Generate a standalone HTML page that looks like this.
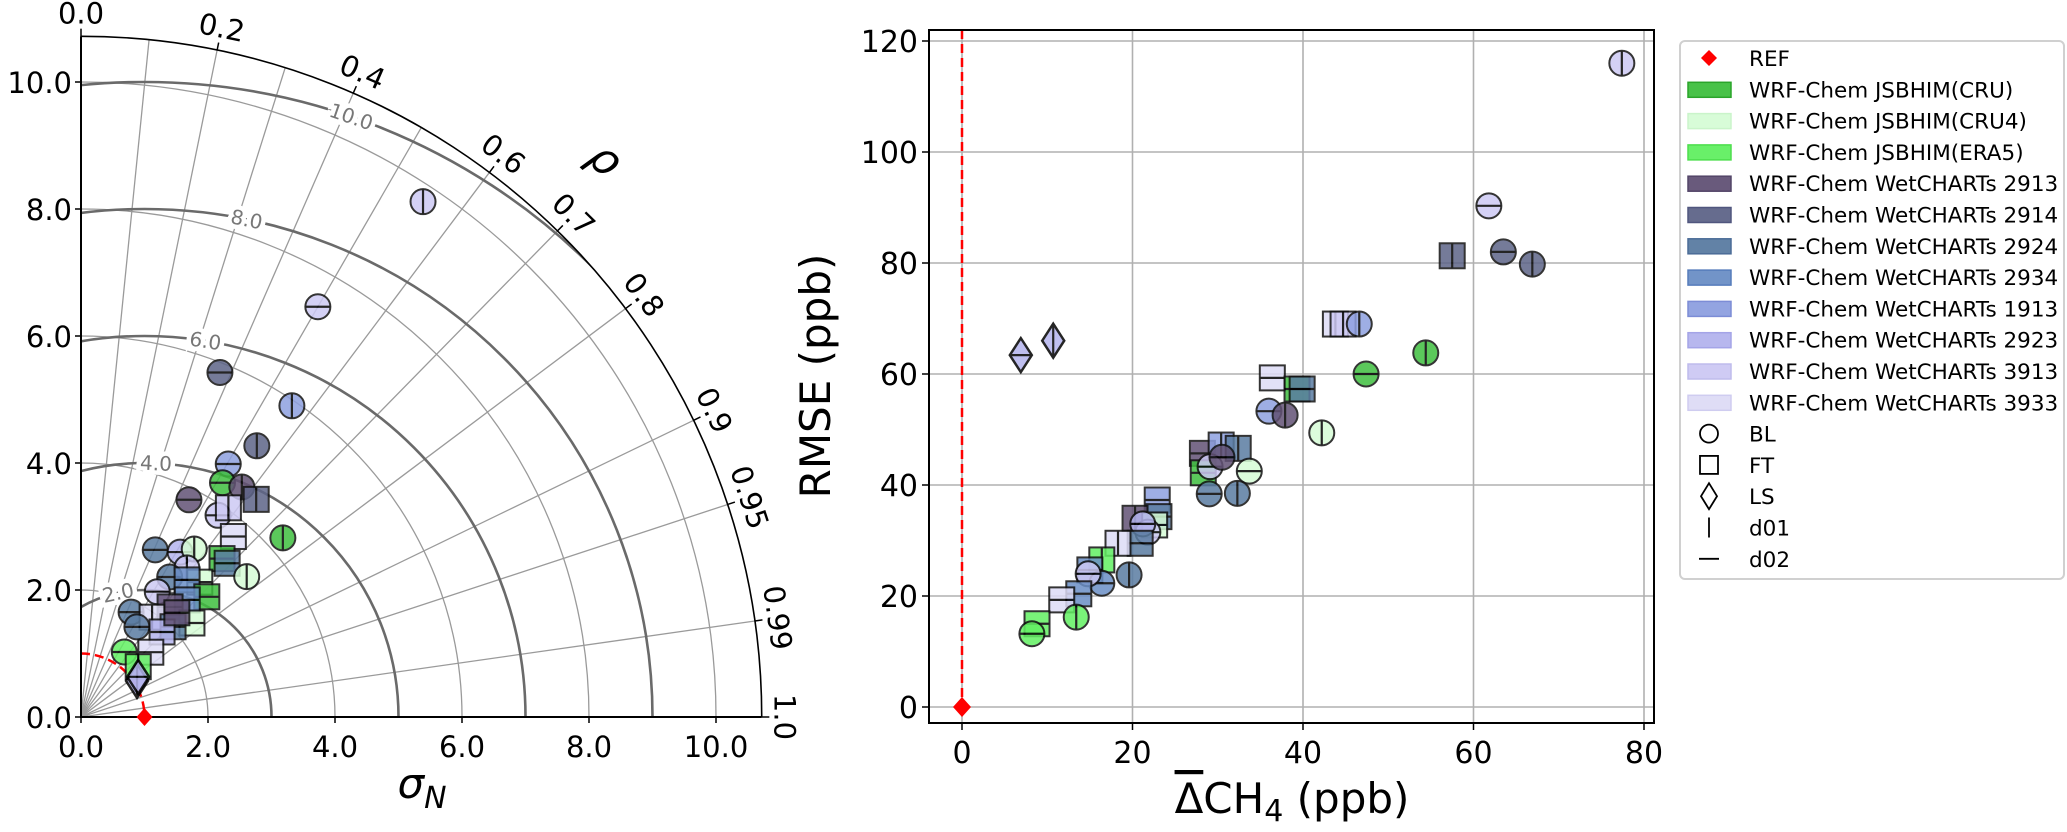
<!DOCTYPE html>
<html><head><meta charset="utf-8"><style>
html,body{margin:0;padding:0;background:#fff;width:2067px;height:832px;overflow:hidden;}
svg{display:block;font-family:"DejaVu Sans","Liberation Sans",sans-serif;}
</style></head><body>
<svg id="fig" width="2067" height="832" viewBox="0 0 2067 832" xmlns="http://www.w3.org/2000/svg">
<defs>
<clipPath id="qclip"><path d="M81,717 L81,36 A681,681 0 0 1 762,717 Z"/></clipPath>
<clipPath id="sclip"><rect x="929" y="30" width="725" height="693"/></clipPath>
</defs>
<g id="taylor"></g>
<g id="scatter"></g>
<g id="legend"></g>
</svg>
<script>
// ---------- shared categories ----------
const modelNames = ["WRF-Chem JSBHIM(CRU)","WRF-Chem JSBHIM(CRU4)","WRF-Chem JSBHIM(ERA5)","WRF-Chem WetCHARTs 2913","WRF-Chem WetCHARTs 2914","WRF-Chem WetCHARTs 2924","WRF-Chem WetCHARTs 2934","WRF-Chem WetCHARTs 1913","WRF-Chem WetCHARTs 2923","WRF-Chem WetCHARTs 3913","WRF-Chem WetCHARTs 3933"];
const modelColors = ["#3fbf3f","#d6fcd6","#62f062","#625275","#5e6588","#5a7ca2","#6b8fc6","#8ea0e0","#b4b4ee","#cdc9f4","#dedcf6"];
const modelEdges = ["#1fa01f","#c8f4c8","#44dd44","#4a3c60","#474e78","#426592","#4e76b8","#7686d4","#a0a0e6","#bcb8ec","#cdcaf0"];

// ---------- Taylor data ----------
const tayStd   = [9.74,7.46,5.85,5.92,5.09,4.61,4.31,4.42,4.40,3.82,3.84,4.03,4.25,3.72,2.88,3.03,3.19,3.34,3.34,3.42,2.88,2.61,2.83,2.73,2.31,2.74,2.49,2.23,1.83,1.93,2.29,2.03,1.85,1.67,1.50,1.23,1.20,1.05,1.10,2.23];
const tayCorr  = [0.553,0.500,0.374,0.561,0.544,0.503,0.517,0.573,0.627,0.445,0.562,0.576,0.748,0.645,0.406,0.515,0.559,0.665,0.689,0.763,0.579,0.535,0.661,0.612,0.520,0.723,0.672,0.629,0.431,0.580,0.763,0.714,0.690,0.527,0.733,0.554,0.751,0.84,0.818,0.677];
const tayModel = [9,9,4,7,4,7,0,3,4,3,9,9,0,10,5,8,1,0,5,1,9,5,1,6,9,0,6,3,5,10,1,5,8,5,10,2,2,8,8,3];
const tayType  = ["BL","BL","BL","BL","BL","BL","BL","BL","FT","BL","BL","FT","BL","FT","BL","BL","BL","FT","FT","BL","BL","BL","FT","FT","BL","FT","FT","FT","BL","FT","FT","FT","FT","BL","FT","BL","FT","LS","LS","FT"];
const tayDom   = ["d01","d02","d02","d01","d01","d02","d02","d01","d01","d02","d02","d01","d01","d02","d02","d02","d01","d02","d02","d01","d01","d02","d02","d02","d02","d02","d02","d02","d02","d01","d02","d02","d02","d02","d02","d02","d01","d01","d02","d02"];
const stdTicks = [0,2,4,6,8,10];
const stdTickLabels = ["0.0","2.0","4.0","6.0","8.0","10.0"];
const corrGrid = [0.1,0.2,0.3,0.4,0.5,0.6,0.7,0.8,0.9,0.95,0.99];
const corrLabels = ["0.0","0.2","0.4","0.6","0.7","0.8","0.9","0.95","0.99","1.0"];
const rmsLevels = [2,4,6,8,10];
const rmsLabels = ["2.0","4.0","6.0","8.0","10.0"];
const refStd = 1.0;

// ---------- Scatter data ----------
const scatBias  = [6.9,10.7,36.4,43.8,44.7,46.6,47.4,39.3,39.9,36,37.9,42.2,28.2,30.4,32.4,28.3,29.1,30.5,33.7,29,32.3,22.9,23.1,20.3,22.6,21.8,21.2,20.9,18.3,16.4,19.6,15,16.4,14.8,13.7,11.7,13.4,8.8,8.2,77.4,61.8,57.5,63.5,66.9,54.4];
const scatRmse  = [63.4,66,59.3,69,69,69,60,57.3,57.3,53.3,52.6,49.4,45.7,47.2,46.6,42.2,43.3,45,42.5,38.4,38.5,37.3,34.3,34,32.8,31.5,33,29.5,29.5,26.5,23.8,24.7,22.3,24,20.4,19.3,16.2,15,13.2,116,90.3,81.3,82,79.8,63.8];
const scatModel = [8,8,10,10,9,7,0,0,5,7,3,1,3,7,5,0,9,3,1,5,5,7,5,3,1,9,8,5,10,2,5,6,6,9,6,10,2,2,2,9,9,4,4,4,0];
const scatType  = ["LS","LS","FT","FT","FT","BL","BL","FT","FT","BL","BL","BL","FT","FT","FT","FT","BL","BL","BL","BL","BL","FT","FT","FT","FT","BL","BL","FT","FT","FT","BL","FT","BL","BL","FT","FT","BL","FT","BL","BL","BL","FT","BL","BL","BL"];
const scatDom   = ["d02","d01","d02","d01","d01","d01","d02","d02","d02","d02","d01","d01","d02","d01","d01","d02","d02","d02","d02","d02","d01","d02","d02","d01","d02","d02","d02","d02","d01","d01","d01","d02","d02","d02","d02","d02","d01","d02","d02","d01","d02","d01","d02","d01","d01"];
const xTicks = [0,20,40,60,80];
const yTicks = [0,20,40,60,80,100,120];
const refBias = 0, refRmse = 0;

const NS = "http://www.w3.org/2000/svg";
function mk(tag, attrs, parent){const e=document.createElementNS(NS,tag);for(const k in attrs)e.setAttribute(k,attrs[k]);if(parent)parent.appendChild(e);return e;}

function marker(parent, cx, cy, type, dom, mi, name){
  const g = mk("g",{opacity:"0.85"},parent);
  
  
  const fill = modelColors[mi];
  let hw=12.5, hh=12.5;
  if(type==="BL"){ mk("circle",{cx:cx,cy:cy,r:12.5,fill:fill,stroke:"#111","stroke-width":2},g); }
  else if(type==="FT"){ mk("rect",{x:cx-12.5,y:cy-12.5,width:25,height:25,fill:fill,stroke:"#111","stroke-width":2},g); }
  else { hw=11; hh=17; mk("polygon",{points:`${cx},${cy-17} ${cx+11},${cy} ${cx},${cy+17} ${cx-11},${cy}`,fill:fill,stroke:"#000","stroke-width":2.5},g); }
  if(dom==="d01") mk("line",{x1:cx,y1:cy-hh,x2:cx,y2:cy+hh,stroke:"#000","stroke-width":2.2},g);
  else mk("line",{x1:cx-hw,y1:cy,x2:cx+hw,y2:cy,stroke:"#000","stroke-width":2.2},g);
}

// ---------- Taylor ----------
(function(){
  const T = document.getElementById("taylor");
  const ox=81, oy=717, s=63.5, Rmax=10.72;
  const P=(sd,rho)=>[ox+sd*rho*s, oy-sd*Math.sqrt(Math.max(0,1-rho*rho))*s];
  const grid = mk("g",{"clip-path":"url(#qclip)"},T);
  stdTicks.forEach(v=>{ if(v===0) return;
    const a=mk("path",{d:`M${ox},${oy-v*s} A${v*s},${v*s} 0 0 1 ${ox+v*s},${oy}`,fill:"none",stroke:"#9a9a9a","stroke-width":1.3},grid);
    
    
  });
  corrGrid.forEach(r=>{ const p=P(Rmax,r);
    const l=mk("line",{x1:ox,y1:oy,x2:p[0],y2:p[1],stroke:"#9a9a9a","stroke-width":1.3},grid);
    
    
  });
  rmsLevels.forEach(v=>{
    const c=mk("circle",{cx:ox+refStd*s,cy:oy,r:v*s,fill:"none",stroke:"#6a6a6a","stroke-width":2.6},grid);
    
    
  });
  const labAng=[102,87.4,80.8,78.4,71];
  rmsLevels.forEach((v,i)=>{
    const a=labAng[i]*Math.PI/180;
    const x=ox+refStd*s+v*s*Math.cos(a), y=oy-v*s*Math.sin(a);
    const rot=90-labAng[i];
    const t=mk("text",{x:x,y:y+7,"text-anchor":"middle","font-size":20,fill:"#777",stroke:"#fff","stroke-width":9,"paint-order":"stroke",transform:`rotate(${rot} ${x} ${y})`},T);
    t.textContent=rmsLabels[i];
    
    
  });
  const ra=mk("path",{d:`M${ox},${oy-refStd*s} A${refStd*s},${refStd*s} 0 0 1 ${ox+refStd*s},${oy}`,fill:"none",stroke:"#ff0000","stroke-width":2.5,"stroke-dasharray":"9,5"},T);
  
  
  const ax=mk("path",{d:`M${ox},${oy-Rmax*s} L${ox},${oy} L${ox+Rmax*s},${oy}`,fill:"none",stroke:"#000","stroke-width":2},T);
  
  
  const outer=mk("path",{d:`M${ox},${oy-Rmax*s} A${Rmax*s},${Rmax*s} 0 0 1 ${ox+Rmax*s},${oy}`,fill:"none",stroke:"#000","stroke-width":1.6},T);
  
  
  stdTicks.forEach((v,i)=>{
    mk("line",{x1:ox+v*s,y1:oy,x2:ox+v*s,y2:oy+6,stroke:"#000","stroke-width":1.5},T);
    mk("line",{x1:ox-6,y1:oy-v*s,x2:ox,y2:oy-v*s,stroke:"#000","stroke-width":1.5},T);
    const tx=mk("text",{x:ox+v*s,y:oy+40,"text-anchor":"middle","font-size":29},T);
    tx.textContent=stdTickLabels[i];
    
    
    const ty=mk("text",{x:ox-9,y:oy-v*s+11,"text-anchor":"end","font-size":29},T);
    ty.textContent=stdTickLabels[i];
    
    
  });
  corrLabels.forEach(lbl=>{
    const r=parseFloat(lbl); const th=Math.acos(r);
    const p0=P(Rmax,r), p1=P(Rmax+0.12,r);
    mk("line",{x1:p0[0],y1:p0[1],x2:p1[0],y2:p1[1],stroke:"#000","stroke-width":1.5},T);
    const rr=Rmax+0.36; const x=ox+rr*Math.cos(th)*s, y=oy-rr*Math.sin(th)*s;
    const rot=90-th*180/Math.PI;
    const t=mk("text",{x:x,y:y+10,"text-anchor":"middle","font-size":29,transform:`rotate(${rot} ${x} ${y})`},T);
    t.textContent=lbl;
    
    
  });
  { const th=Math.acos(0.685), rr=12.05; const x=ox+rr*Math.cos(th)*s, y=oy-rr*Math.sin(th)*s;
    const t=mk("text",{x:x,y:y+14,"text-anchor":"middle","font-size":44,"font-style":"italic",transform:`rotate(${90-th*180/Math.PI} ${x} ${y})`},T);
    t.textContent="ρ";
    
     }
  { const t=mk("text",{x:422,y:798,"text-anchor":"middle","font-size":42,"font-style":"italic"},T);
    t.innerHTML='σ<tspan font-size="30" dy="10">N</tspan>';
    
     }
  tayStd.forEach((sd,i)=>{ const p=P(sd,tayCorr[i]); marker(T,p[0],p[1],tayType[i],tayDom[i],tayModel[i],'taylor-point'); });
  const rp=P(refStd,1);
  const rd=mk("polygon",{points:`${rp[0]},${rp[1]-9} ${rp[0]+8},${rp[1]} ${rp[0]},${rp[1]+9} ${rp[0]-8},${rp[1]}`,fill:"#ff0000"},T);
  
  
})();

// ---------- Scatter ----------
(function(){
  const S=document.getElementById("scatter");
  const L=929,R=1654,Tp=30,B=723;
  const X=v=>962+v*8.525, Y=v=>707-v*5.55;
  xTicks.forEach(v=>{
    const g=mk("line",{x1:X(v),y1:Tp,x2:X(v),y2:B,stroke:"#b0b0b0","stroke-width":1.6},S);
    
    
    mk("line",{x1:X(v),y1:B,x2:X(v),y2:B+7,stroke:"#000","stroke-width":1.5},S);
    const t=mk("text",{x:X(v),y:B+40,"text-anchor":"middle","font-size":30},S);
    t.textContent=String(v);
    
    
  });
  yTicks.forEach(v=>{
    const g=mk("line",{x1:L,y1:Y(v),x2:R,y2:Y(v),stroke:"#b0b0b0","stroke-width":1.6},S);
    
    
    mk("line",{x1:L-7,y1:Y(v),x2:L,y2:Y(v),stroke:"#000","stroke-width":1.5},S);
    const t=mk("text",{x:L-11,y:Y(v)+11,"text-anchor":"end","font-size":30},S);
    t.textContent=String(v);
    
    
  });
  const rl=mk("line",{x1:X(refBias),y1:Tp,x2:X(refBias),y2:Y(refRmse),stroke:"#ff0000","stroke-width":2.5,"stroke-dasharray":"9,5"},S);
  
  
  const pg=mk("g",{"clip-path":"url(#sclip)"},S);
  scatBias.forEach((v,i)=>{ marker(pg,X(v),Y(scatRmse[i]),scatType[i],scatDom[i],scatModel[i],'scatter-point'); });
  const rx=X(refBias), ry=Y(refRmse);
  const rd=mk("polygon",{points:`${rx},${ry-10} ${rx+9},${ry} ${rx},${ry+10} ${rx-9},${ry}`,fill:"#ff0000"},S);
  
  
  const fr=mk("rect",{x:L,y:Tp,width:R-L,height:B-Tp,fill:"none",stroke:"#000","stroke-width":2},S);
  
  
  const yl=mk("text",{x:0,y:0,"text-anchor":"middle","font-size":42,transform:"translate(830,376) rotate(-90)"},S);
  yl.textContent="RMSE (ppb)";
  
  
  const xl=mk("text",{x:1292,y:813,"text-anchor":"middle","font-size":42},S);
  xl.innerHTML='<tspan text-decoration="overline">Δ</tspan>CH<tspan font-size="30" dy="8">4</tspan><tspan dy="-8"> (ppb)</tspan>';
  
  
})();

// ---------- Legend ----------
(function(){
  const G=document.getElementById("legend");
  const box=mk("rect",{x:1680,y:41,width:384,height:538,rx:5,fill:"#fff",stroke:"#d0d0d0","stroke-width":2},G);
  
  
  const step=31.3, y0=58, tx=1749, sx=1709;
  function entry(i,label){
    const y=y0+i*step;
    const t=mk("text",{x:tx,y:y+8,"font-size":21.5},G);
    t.textContent=label;
    
    
    return y;
  }
  let y=entry(0,"REF");
  mk("polygon",{points:`${sx},${y-8} ${sx+8},${y} ${sx},${y+8} ${sx-8},${y}`,fill:"#ff0000"},G);
  modelNames.forEach((n,i)=>{
    const yy=entry(i+1,n);
    const r=mk("rect",{x:1688,y:yy-7,width:43,height:15,fill:modelColors[i],stroke:modelEdges[i],"stroke-width":1.5,opacity:"0.95"},G);
    
    
  });
  y=entry(12,"BL"); mk("circle",{cx:sx,cy:y,r:9,fill:"none",stroke:"#000","stroke-width":1.8},G);
  y=entry(13,"FT"); mk("rect",{x:sx-9,y:y-9,width:18,height:18,fill:"none",stroke:"#000","stroke-width":1.8},G);
  y=entry(14,"LS"); mk("polygon",{points:`${sx},${y-13} ${sx+8},${y} ${sx},${y+13} ${sx-8},${y}`,fill:"none",stroke:"#000","stroke-width":1.8},G);
  y=entry(15,"d01"); mk("line",{x1:sx,y1:y-10,x2:sx,y2:y+10,stroke:"#000","stroke-width":1.8},G);
  y=entry(16,"d02"); mk("line",{x1:sx-10,y1:y,x2:sx+10,y2:y,stroke:"#000","stroke-width":1.8},G);
})();
</script>
</body></html>
